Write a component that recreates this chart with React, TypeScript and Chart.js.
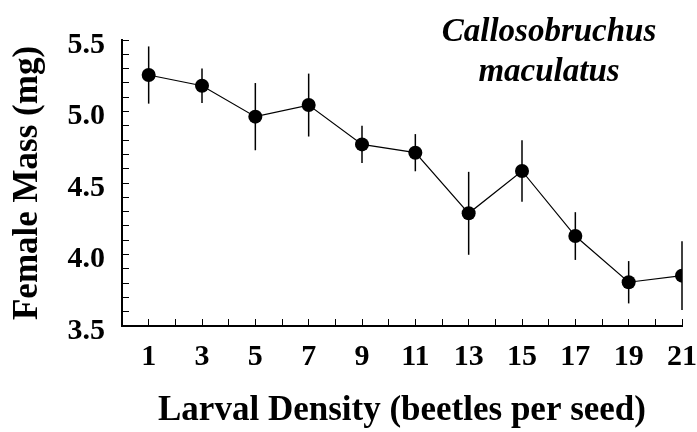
import React, { useEffect, useRef } from 'react';
import { Chart, registerables } from 'chart.js';

Chart.register(...registerables);

// ---- data ----
const density = [1, 3, 5, 7, 9, 11, 13, 15, 17, 19, 21];
const femaleMass = [5.255, 5.18, 4.964, 5.045, 4.77, 4.712, 4.288, 4.584, 4.129, 3.806, 3.852];
const massError = [0.2, 0.12, 0.235, 0.22, 0.13, 0.13, 0.29, 0.215, 0.167, 0.148, 0.24];
const yMajorTicks = [3.5, 4.0, 4.5, 5.0, 5.5];
const xLabelledTicks = [1, 3, 5, 7, 9, 11, 13, 15, 17, 19, 21];
const titleLines = ['Callosobruchus', 'maculatus'];
const xTitle = 'Larval Density (beetles per seed)';
const yTitle = 'Female Mass (mg)';

const SERIF = '"Liberation Serif", "Times New Roman", Times, serif';

const errorBarsPlugin = {
  id: 'errorBars',
  beforeDatasetsDraw(chart: any) {
    const { ctx, scales } = chart;
    const x = scales.x;
    const y = scales.y;
    ctx.save();
    ctx.strokeStyle = '#000';
    ctx.lineWidth = 1.5;
    density.forEach((d, i) => {
      const px = x.getPixelForValue(d);
      ctx.beginPath();
      ctx.moveTo(px, y.getPixelForValue(femaleMass[i] + massError[i]));
      ctx.lineTo(px, y.getPixelForValue(femaleMass[i] - massError[i]));
      ctx.stroke();
    });
    ctx.restore();
  },
};

const speciesTitlePlugin = {
  id: 'speciesTitle',
  afterDraw(chart: any) {
    const { ctx } = chart;
    ctx.save();
    ctx.fillStyle = '#000';
    ctx.font = `italic bold 33px ${SERIF}`;
    ctx.textAlign = 'center';
    ctx.textBaseline = 'alphabetic';
    ctx.fillText(titleLines[0], 549, 41);
    ctx.fillText(titleLines[1], 549, 81);
    ctx.restore();
  },
};

export default function App() {
  const canvasRef = useRef<HTMLCanvasElement | null>(null);

  useEffect(() => {
    document.body.style.margin = '0';
    const canvas = canvasRef.current;
    if (!canvas) return;
    const chart = new Chart(canvas, {
      type: 'line',
      data: {
        datasets: [
          {
            data: density.map((d, i) => ({ x: d, y: femaleMass[i] })),
            borderColor: '#000',
            borderWidth: 1.2,
            backgroundColor: '#000',
            pointBackgroundColor: '#000',
            pointBorderWidth: 0,
            pointRadius: 7,
            tension: 0,
          },
        ],
      },
      options: {
        responsive: false,
        animation: false,
        devicePixelRatio: 1,
        layout: { padding: { top: 40, right: 0, left: 0, bottom: 0 } },
        plugins: {
          legend: { display: false },
          tooltip: { enabled: false },
          title: { display: false },
        },
        scales: {
          x: {
            type: 'linear',
            min: 0,
            max: 21,
            afterFit(scale: any) {
              scale.height = 106;
              scale.paddingRight = 15;
              scale.paddingLeft = 0;
            },
            ticks: {
              stepSize: 1,
              autoSkip: false,
              maxRotation: 0,
              color: '#000',
              padding: 20,
              font: { family: SERIF, size: 30, weight: 'bold' },
              callback: (v: any) => (xLabelledTicks.includes(Number(v)) ? String(v) : ''),
            },
            grid: {
              drawOnChartArea: false,
              tickLength: -7,
              tickColor: '#000',
              tickWidth: 1,
              color: '#000',
            },
            border: { color: '#000', width: 2 },
            title: {
              display: true,
              text: xTitle,
              color: '#000',
              font: { family: SERIF, size: 35, weight: 'bold' },
              padding: { top: 0, bottom: 0 },
            },
          },
          y: {
            type: 'linear',
            min: 3.5,
            max: 5.5,
            afterFit(scale: any) {
              scale.width = 122;
              scale.paddingTop = 0;
              scale.paddingBottom = 0;
            },
            ticks: {
              stepSize: 0.1,
              autoSkip: false,
              color: '#000',
              padding: 24,
              labelOffset: 5,
              font: { family: SERIF, size: 30, weight: 'bold' },
              callback: (v: any) => {
                const n = Number(v);
                const hit = yMajorTicks.find((t) => Math.abs(t - n) < 1e-6);
                return hit !== undefined ? hit.toFixed(1) : '';
              },
            },
            grid: {
              drawOnChartArea: false,
              tickLength: -7,
              tickColor: '#000',
              tickWidth: 1,
              color: '#000',
            },
            border: { color: '#000', width: 2 },
            title: {
              display: true,
              text: yTitle,
              color: '#000',
              font: { family: SERIF, size: 35, weight: 'bold' },
              padding: { top: 7, bottom: 0 },
            },
          },
        },
      },
      plugins: [errorBarsPlugin, speciesTitlePlugin],
    } as any);
    return () => chart.destroy();
  }, []);

  return (
    <div style={{ position: 'absolute', left: 0, top: 0, width: 697, height: 432, background: '#fff' }}>
      <canvas ref={canvasRef} width={697} height={432} />
    </div>
  );
}
